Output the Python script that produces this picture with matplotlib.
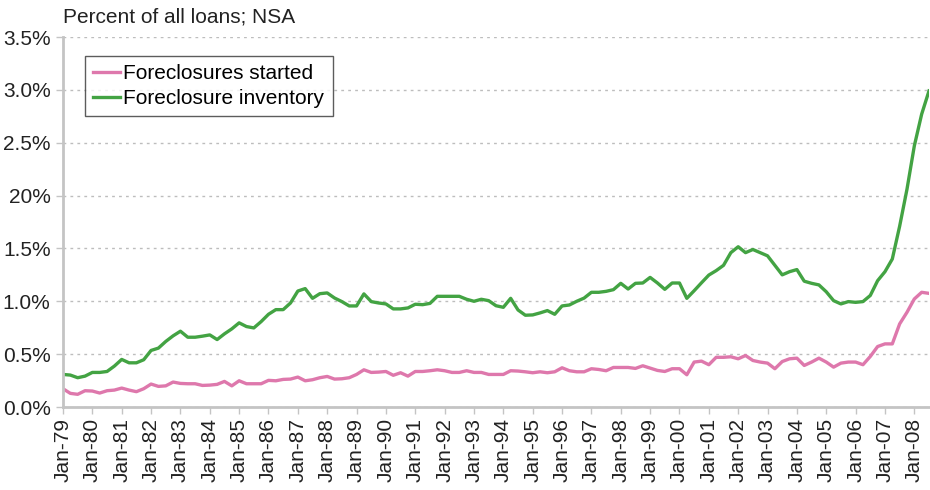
import matplotlib
matplotlib.use("Agg")
import matplotlib.pyplot as plt

plt.rcParams['font.family'] = ['Liberation Sans', 'DejaVu Sans']

# Quarterly data, Q1 1979 .. Q3 2008
foreclosure_inventory = [
    0.308, 0.302, 0.277, 0.292,
    0.327, 0.327, 0.336, 0.387,
    0.450, 0.418, 0.418, 0.447,
    0.535, 0.557, 0.620, 0.673,
    0.717, 0.660, 0.660, 0.670,
    0.682, 0.638, 0.692, 0.739,
    0.796, 0.761, 0.748, 0.808,
    0.877, 0.921, 0.921, 0.984,
    1.097, 1.120, 1.028, 1.072,
    1.079, 1.031, 0.997, 0.956,
    0.956, 1.070, 0.997, 0.984,
    0.975, 0.928, 0.928, 0.937,
    0.972, 0.968, 0.980, 1.047,
    1.047, 1.047, 1.047, 1.019,
    1.000, 1.019, 1.006, 0.958,
    0.943, 1.028, 0.918, 0.868,
    0.871, 0.890, 0.912, 0.877,
    0.956, 0.965, 1.000, 1.030,
    1.085, 1.085, 1.094, 1.110,
    1.170, 1.116, 1.170, 1.173,
    1.226, 1.173, 1.113, 1.173,
    1.173, 1.028, 1.100, 1.175,
    1.248, 1.290, 1.340, 1.460,
    1.516, 1.460, 1.490, 1.460,
    1.430, 1.340, 1.250, 1.280,
    1.300, 1.190, 1.170, 1.155,
    1.090, 1.006, 0.975, 0.997,
    0.990, 0.997, 1.055, 1.195,
    1.280, 1.400, 1.710, 2.060,
    2.470, 2.770, 2.990,
]

foreclosures_started = [
    0.173, 0.129, 0.120, 0.154,
    0.151, 0.132, 0.154, 0.160,
    0.179, 0.160, 0.145, 0.173,
    0.217, 0.195, 0.200, 0.236,
    0.223, 0.220, 0.220, 0.204,
    0.207, 0.214, 0.242, 0.200,
    0.248, 0.220, 0.220, 0.220,
    0.252, 0.248, 0.261, 0.264,
    0.283, 0.248, 0.258, 0.277,
    0.289, 0.264, 0.267, 0.277,
    0.308, 0.352, 0.327, 0.330,
    0.336, 0.300, 0.324, 0.292,
    0.336, 0.336, 0.343, 0.352,
    0.343, 0.327, 0.327, 0.343,
    0.327, 0.327, 0.308, 0.308,
    0.308, 0.343, 0.340, 0.333,
    0.324, 0.333, 0.324, 0.333,
    0.371, 0.343, 0.333, 0.333,
    0.362, 0.355, 0.343, 0.374,
    0.374, 0.374, 0.365, 0.390,
    0.368, 0.346, 0.336, 0.362,
    0.362, 0.305, 0.425, 0.434,
    0.400, 0.470, 0.470, 0.475,
    0.456, 0.487, 0.440, 0.425,
    0.415, 0.362, 0.430, 0.456,
    0.462, 0.393, 0.425, 0.462,
    0.425, 0.377, 0.415, 0.425,
    0.425, 0.400, 0.478, 0.572,
    0.597, 0.597, 0.786, 0.896,
    1.022, 1.085, 1.075,
]

x_tick_labels = ['Jan-%02d' % (y % 100) for y in range(1979, 2009)]
y_ticks = [0.0, 0.5, 1.0, 1.5, 2.0, 2.5, 3.0, 3.5]
y_tick_labels = ['0.0%', '0.5%', '1.0%', '1.5%', '20%', '2.5%', '3.0%', '3.5%']

series_names = ['Foreclosures started', 'Foreclosure inventory']
series_colors = ['#de78ac', '#43a343']

fig = plt.figure(figsize=(9.3, 4.9), dpi=100)
ax = fig.add_axes([63 / 930, 83 / 490, 866 / 930, 370 / 490])

n = len(foreclosure_inventory)
xs = list(range(n))
ax.plot(xs, foreclosures_started, color=series_colors[0], lw=2.4,
        label=series_names[0], solid_joinstyle='round')
ax.plot(xs, foreclosure_inventory, color=series_colors[1], lw=2.4,
        label=series_names[1], solid_joinstyle='round')

ax.set_xlim(0, n - 1)
ax.set_ylim(0, 3.5)
ax.set_yticks(y_ticks)
ax.set_yticklabels(y_tick_labels, fontsize=15, color='#222222')
ax.set_xticks(list(range(0, 4 * len(x_tick_labels), 4)))
ax.set_xticklabels(x_tick_labels, rotation=90, fontsize=15, color='#222222')

for s in ['top', 'right']:
    ax.spines[s].set_visible(False)
for s in ['left', 'bottom']:
    ax.spines[s].set_color('#c4c4c4')
    ax.spines[s].set_linewidth(2)
ax.tick_params(axis='both', colors='#c4c4c4', length=5, width=1, labelcolor='#222222')
ax.tick_params(axis='x', pad=3)
ax.tick_params(axis='y', pad=4)

ax.yaxis.grid(True, linestyle=(0, (2, 3)), color='#bdbdbd', lw=1)
ax.set_axisbelow(True)

leg = ax.legend(loc='upper left', bbox_to_anchor=(0.025, 0.95), fontsize=15,
                frameon=True, fancybox=False, edgecolor='#333333',
                handlelength=1.3, handletextpad=0.15, borderpad=0.4,
                labelspacing=0.3, borderaxespad=0)
leg.get_frame().set_linewidth(1)

fig.text(63 / 930, 1 - 17 / 490, 'Percent of all loans; NSA', fontsize=15,
         color='#222222', ha='left', va='center')

fig.savefig('out.png', dpi=100)
